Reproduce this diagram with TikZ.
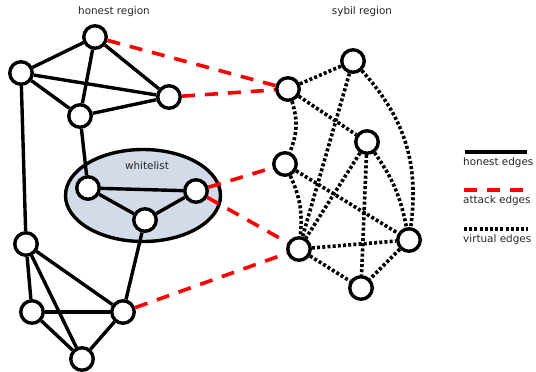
\documentclass[tikz,border=0pt]{standalone}
\usepackage{fontspec}
\setmainfont{DejaVu Sans}
\usepackage{tikz}
\usetikzlibrary{shapes.geometric}
\definecolor{red2}{HTML}{FF0000}
\definecolor{wlblue}{HTML}{D3DAE8}

\begin{document}
\begin{tikzpicture}[
      x=1pt, y=-1pt,
      vtx/.style={circle, draw, line width=3.4pt, fill=white, minimum size=22.5pt, inner sep=0pt},
      honest/.style={line width=3.4pt},
      attack/.style={line width=3.6pt, red2, dash pattern=on 13pt off 10pt},
      virtual/.style={line width=3.6pt, dash pattern=on 3pt off 2.2pt},
      lbl/.style={font=\fontsize{10.4}{12}\selectfont, text=black!85}
  ]
    \useasboundingbox (0,0) rectangle (536,372);
    % whitelist region
    \draw[line width=3.4pt, fill=wlblue] (143,195.5) ellipse [x radius=77.5pt, y radius=46pt];
    \node[lbl] (wltxt) at (147,166) {whitelist};
    \node[lbl] (hontxt) at (114,12) {honest region};
    \node[lbl] (sybtxt) at (362,12) {sybil region};
    % honest nodes
    \node[vtx] (h1) at (95,37) {};
    \node[vtx] (h2) at (21,73) {};
    \node[vtx] (h3) at (169,97) {};
    \node[vtx] (h4) at (80,116) {};
    \node[vtx] (w1) at (88,188) {};
    \node[vtx] (w2) at (196,191) {};
    \node[vtx] (w3) at (145,220) {};
    \node[vtx] (b1) at (26,244) {};
    \node[vtx] (b2) at (32,312) {};
    \node[vtx] (b3) at (123,312) {};
    \node[vtx] (b4) at (82,359) {};
    % sybil nodes
    \node[vtx] (s1) at (288,89) {};
    \node[vtx] (s2) at (353,61) {};
    \node[vtx] (s3) at (367,142) {};
    \node[vtx] (s4) at (285,164) {};
    \node[vtx] (s5) at (299,249) {};
    \node[vtx] (s6) at (409,240) {};
    \node[vtx] (s7) at (361,288) {};
    % honest edges
    \draw[honest] (h1) -- (h2);
    \draw[honest] (h1) -- (h4);
    \draw[honest] (h1) -- (h3);
    \draw[honest] (h2) -- (h3);
    \draw[honest] (h2) -- (h4);
    \draw[honest] (h4) -- (h3);
    \draw[honest] (h2) -- (b1);
    \draw[honest] (h4) -- (w1);
    \draw[honest] (w1) -- (w2);
    \draw[honest] (w1) -- (w3);
    \draw[honest] (w3) -- (w2);
    \draw[honest] (w3) -- (b3);
    \draw[honest] (b1) -- (b2);
    \draw[honest] (b1) -- (b3);
    \draw[honest] (b1) -- (b4);
    \draw[honest] (b2) -- (b3);
    \draw[honest] (b2) -- (b4);
    \draw[honest] (b3) -- (b4);
    % attack edges
    \draw[attack] (h1) -- (s1);
    \draw[attack] (h3) -- (s1);
    \draw[attack] (w2) -- (s4);
    \draw[attack] (w2) -- (s5);
    \draw[attack] (b3) -- (s5);
    % virtual edges
    \draw[virtual] (s1) -- (s2);
    \draw[virtual] (s1) -- (s3);
    \draw[virtual] (s1) to[bend left=20] (s4);
    \draw[virtual] (s2) -- (s5);
    \draw[virtual] (s2) to[bend left=25] (s6);
    \draw[virtual] (s3) -- (s5);
    \draw[virtual] (s3) -- (s7);
    \draw[virtual] (s3) to[bend left=12] (s6);
    \draw[virtual] (s4) to[bend left=15] (s5);
    \draw[virtual] (s4) -- (s6);
    \draw[virtual] (s5) -- (s6);
    \draw[virtual] (s5) -- (s7);
    \draw[virtual] (s6) -- (s7);
    % legend
    \coordinate (l1a) at (465,152); \coordinate (l1b) at (527,152);
    \coordinate (l2a) at (464,190); \coordinate (l2b) at (528,190);
    \coordinate (l3a) at (464,229); \coordinate (l3b) at (528,229);
    \draw[honest] (l1a) -- (l1b);
    \draw[attack] (l2a) -- (l2b);
    \draw[virtual] (l3a) -- (l3b);
    \node[lbl, anchor=west, inner sep=0pt] (leg1) at (463,162.5) {honest edges};
    \node[lbl, anchor=west, inner sep=0pt] (leg2) at (463,200.5) {attack edges};
    \node[lbl, anchor=west, inner sep=0pt] (leg3) at (463,239.5) {virtual edges};
  \end{tikzpicture}
\end{document}
